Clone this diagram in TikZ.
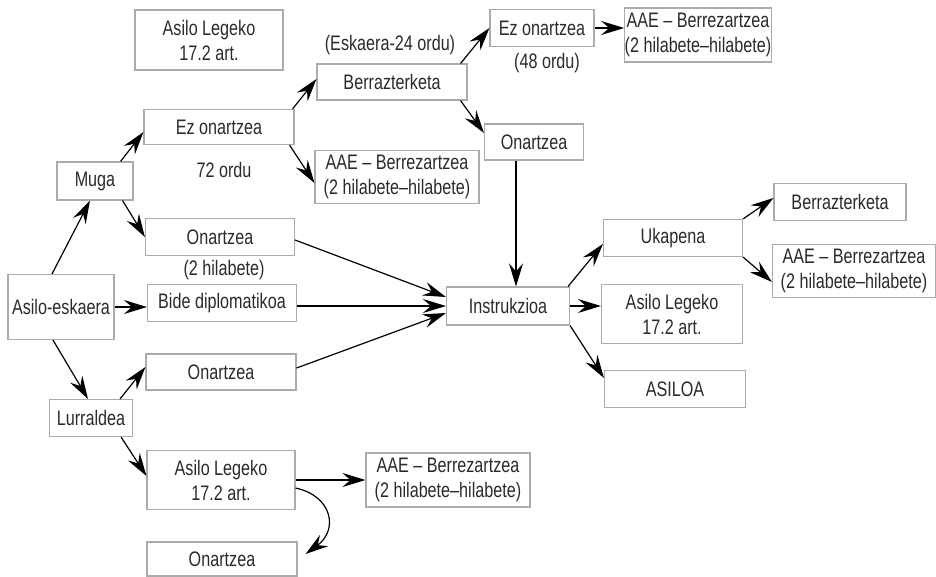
\documentclass[tikz,border=0pt]{standalone}
\usepackage{fontspec}
\setmainfont{Liberation Sans}[FakeStretch=0.77]
\usetikzlibrary{arrows.meta,positioning}
\definecolor{boxgray}{HTML}{ABABAB}
\definecolor{txtgray}{HTML}{2A2A2A}
\begin{document}
\begin{tikzpicture}[x=1pt,y=-1pt,
    every node/.style={text=txtgray,font=\fontsize{21}{25}\selectfont,align=center,inner sep=0pt},
    box/.style={draw=boxgray,line width=1.1pt},
    arr/.style={-{Stealth[length=23pt,width=14pt,inset=8pt]},line width=1.2pt}]
    \useasboundingbox (0,0) rectangle (936,576);
    % boxes
    \node[box,minimum width=148,minimum height=60] (art1) at (209,40) {Asilo Legeko\\17.2 art.};
    \node[box,minimum width=150,minimum height=35] (ez1) at (219,127) {Ez onartzea};
    \node[box,minimum width=76,minimum height=38] (muga) at (95,181) {Muga};
    \node[box,minimum width=150,minimum height=36] (berr1) at (392,82) {Berrazterketa};
    \node[box,minimum width=104,minimum height=37] (ez2) at (542,28) {Ez onartzea};
    \node[box,minimum width=142,minimum height=54] (aae1) at (698,35) {AAE -- Berrezartzea\\(2 hilabete--hilabete)};
    \node[box,minimum width=99,minimum height=36] (onar1) at (534,142) {Onartzea};
    \node[box,minimum width=164,minimum height=53] (aae2) at (397,177) {AAE -- Berrezartzea\\(2 hilabete--hilabete)};
    \node[box,minimum width=149,minimum height=37] (onar2) at (220,237) {Onartzea};
    \node[box,minimum width=106,minimum height=65] (esk) at (61,307) {Asilo-eskaera};
    \node[box,minimum width=149,minimum height=37] (bide) at (222,303) {Bide diplomatikoa};
    \node[box,minimum width=150,minimum height=36] (onar3) at (221,372) {Onartzea};
    \node[box,minimum width=123,minimum height=38] (instr) at (508,306) {Instrukzioa};
    \node[box,minimum width=139,minimum height=37] (ukap) at (673,238) {Ukapena};
    \node[box,minimum width=132,minimum height=37] (berr2) at (840,202) {Berrazterketa};
    \node[box,minimum width=163,minimum height=53] (aae3) at (854,271) {AAE -- Berrezartzea\\(2 hilabete--hilabete)};
    \node[box,minimum width=141,minimum height=59] (art2) at (672,314) {Asilo Legeko\\17.2 art.};
    \node[box,minimum width=141,minimum height=37] (asiloa) at (675,389) {ASILOA};
    \node[box,minimum width=83,minimum height=37] (lurr) at (91,418) {Lurraldea};
    \node[box,minimum width=148,minimum height=59] (art3) at (221,480) {Asilo Legeko\\17.2 art.};
    \node[box,minimum width=164,minimum height=54] (aae4) at (448,480) {AAE -- Berrezartzea\\(2 hilabete--hilabete)};
    \node[box,minimum width=150,minimum height=34] (onar4) at (222,559) {Onartzea};
    % labels
    \node (ordu72) at (224,170) {72 ordu};
    \node (ordu24) at (390,45) {(Eskaera-24 ordu)};
    \node (ordu48) at (547,63) {(48 ordu)};
    \node (hil2) at (224,270) {(2 hilabete)};
    % arrows
    \draw[arr] ([xshift=-9pt]esk.north) -- ([xshift=-5pt]muga.south);
    \draw[arr] ([xshift=-13pt]muga.north east) -- ([yshift=-5pt]ez1.west);
    \draw[arr] ([xshift=-11pt]muga.south east) -- (onar2.west);
    \draw[arr] ([xshift=-2pt]ez1.north east) -- ([yshift=3pt]berr1.west);
    \draw[arr] ([xshift=-5pt]ez1.south east) -- ([yshift=-6pt]aae2.west);
    \draw[arr] ([xshift=-7pt]berr1.north east) -- (ez2.west);
    \draw[arr] ([xshift=-7pt]berr1.south east) -- ([yshift=9pt]onar1.west);
    \draw[arr] (ez2.east) -- (ez2.east -| aae1.west);
    \draw[arr] ([xshift=-18pt]onar1.south) -- ([xshift=-18pt]onar1.south |- instr.north);
    \draw[arr] ([yshift=-3pt]onar2.east) -- ([yshift=9pt]instr.west);
    \draw[arr] (bide.east |- instr.west) -- (instr.west);
    \draw[arr] ([yshift=4pt]onar3.east) -- ([yshift=-7pt]instr.west);
    \draw[arr] (esk.east) -- (esk.east -| bide.west);
    \draw[arr] ([xshift=-8pt]esk.south) -- ([xshift=-3pt]lurr.north);
    \draw[arr] ([xshift=-13pt]lurr.north east) -- ([yshift=5pt]onar3.west);
    \draw[arr] ([xshift=-12pt]lurr.south east) -- ([yshift=4pt]art3.west);
    \draw[arr] (art3.east) -- (art3.east -| aae4.west);
    \draw[arr] ([yshift=-8pt]art3.east) .. controls +(37,8) and +(33,-24) .. ([xshift=8pt,yshift=5pt]onar4.east);
    \draw[arr] ([xshift=-2pt]instr.north east) -- ([yshift=-6pt]ukap.west);
    \draw[arr] (instr.east) -- (instr.east -| art2.west);
    \draw[arr] (instr.south east) -- ([yshift=11pt]asiloa.west);
    \draw[arr] (ukap.north east) -- ([yshift=4pt]berr2.west);
    \draw[arr] (ukap.south east) -- ([yshift=-11pt]aae3.west);
\end{tikzpicture}
\end{document}
